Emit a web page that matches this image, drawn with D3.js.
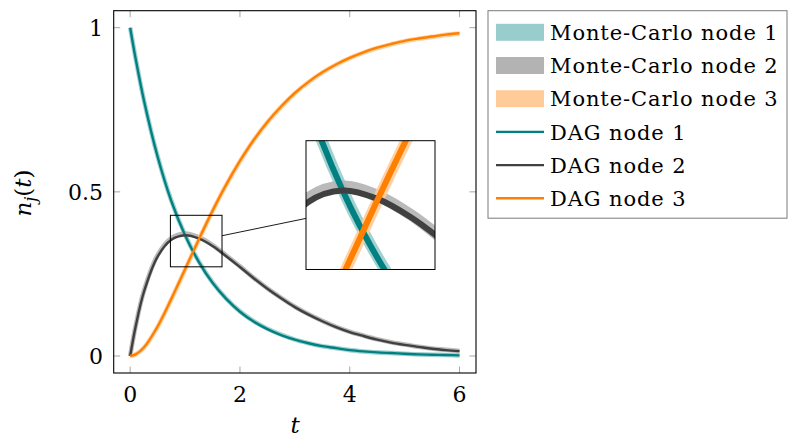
<!DOCTYPE html>
<html><head><meta charset="utf-8">
<script src="https://cdn.jsdelivr.net/npm/d3@7"></script>
<style>body{margin:0;background:#fff}</style></head>
<body><svg id="c" width="789" height="439"></svg>
<script>
// ---- data ----
const tValues   = [0, 0.1, 0.25, 0.5, 0.75, 1, 1.25, 1.5, 1.75, 2, 2.25, 2.5, 2.75, 3, 3.25, 3.5, 3.75, 4, 4.25, 4.5, 4.75, 5, 5.25, 5.5, 5.75, 6];
const dagNode1  = [1.0, 0.905, 0.779, 0.607, 0.472, 0.368, 0.287, 0.223, 0.174, 0.135, 0.105, 0.082, 0.064, 0.050, 0.039, 0.030, 0.024, 0.018, 0.014, 0.011, 0.009, 0.007, 0.005, 0.004, 0.003, 0.002];
const dagNode2  = [0, 0.090, 0.195, 0.303, 0.354, 0.368, 0.358, 0.335, 0.304, 0.271, 0.237, 0.205, 0.176, 0.149, 0.126, 0.106, 0.088, 0.073, 0.061, 0.050, 0.041, 0.034, 0.028, 0.022, 0.018, 0.015];
const dagNode3  = [0, 0.005, 0.026, 0.090, 0.174, 0.264, 0.355, 0.442, 0.522, 0.594, 0.658, 0.713, 0.760, 0.801, 0.835, 0.864, 0.888, 0.908, 0.925, 0.939, 0.950, 0.960, 0.967, 0.973, 0.979, 0.983];
const mcNode1   = [1.0, 0.906, 0.780, 0.608, 0.473, 0.369, 0.288, 0.224, 0.175, 0.136, 0.106, 0.083, 0.065, 0.050, 0.039, 0.030, 0.024, 0.018, 0.014, 0.011, 0.009, 0.007, 0.005, 0.004, 0.003, 0.002];
const mcNode2   = [0, 0.092, 0.198, 0.307, 0.359, 0.373, 0.362, 0.338, 0.306, 0.273, 0.238, 0.206, 0.177, 0.150, 0.127, 0.107, 0.089, 0.074, 0.062, 0.051, 0.042, 0.035, 0.028, 0.023, 0.019, 0.015];
const mcNode3   = [0, 0.005, 0.025, 0.089, 0.173, 0.263, 0.354, 0.441, 0.521, 0.593, 0.657, 0.712, 0.759, 0.800, 0.834, 0.863, 0.887, 0.907, 0.924, 0.938, 0.949, 0.959, 0.966, 0.972, 0.978, 0.982];
const xTicks = [0, 2, 4, 6];
const yTicks = [0, 0.5, 1];
const legendLabels = ["Monte-Carlo node 1", "Monte-Carlo node 2", "Monte-Carlo node 3", "DAG node 1", "DAG node 2", "DAG node 3"];
const spyX = [0.733, 1.673];   // magnified window (data units)
const spyY = [0.2717, 0.4286];

// ---- styles ----
const dagColors = ["#008080", "#404040", "#ff8000"];
const mcColors  = ["#99cccc", "#b3b3b3", "#ffcc99"];
const FONT = "'DejaVu Serif', serif";

const svg = d3.select("#c");
const P = {l: 113.7, r: 476, t: 10.7, b: 373};
const x = d3.scaleLinear().domain([-0.3, 6.3]).range([P.l, P.r]);
const y = d3.scaleLinear().domain([-0.0517, 1.0517]).range([P.b, P.t]);

const dagSeries = [dagNode1, dagNode2, dagNode3];
const mcSeries  = [mcNode1, mcNode2, mcNode3];
const line = d3.line().x((d, i) => x(tValues[i])).y(d => y(d)).curve(d3.curveCatmullRom.alpha(0.5));

const defs = svg.append("defs");
defs.append("clipPath").attr("id", "plotClip").append("rect")
  .attr("x", P.l).attr("y", P.t).attr("width", P.r - P.l).attr("height", P.b - P.t);

function drawSeries(g) {
  mcSeries.forEach((s, k) => g.append("path").attr("d", line(s)).attr("fill", "none")
    .attr("stroke", mcColors[k]).attr("stroke-width", 4.6).attr("stroke-opacity", 0.9));
  dagSeries.forEach((s, k) => g.append("path").attr("d", line(s)).attr("fill", "none")
    .attr("stroke", dagColors[k]).attr("stroke-width", 2.4));
}

// ticks (inside, gray)
const tickG = svg.append("g").attr("stroke", "#a6a6a6").attr("stroke-width", 1);
xTicks.forEach(v => {
  tickG.append("line").attr("x1", x(v)).attr("x2", x(v)).attr("y1", P.b).attr("y2", P.b - 6.5);
  tickG.append("line").attr("x1", x(v)).attr("x2", x(v)).attr("y1", P.t).attr("y2", P.t + 6.5);
});
yTicks.forEach(v => {
  tickG.append("line").attr("y1", y(v)).attr("y2", y(v)).attr("x1", P.l).attr("x2", P.l + 6.5);
  tickG.append("line").attr("y1", y(v)).attr("y2", y(v)).attr("x1", P.r).attr("x2", P.r - 6.5);
});

// main series
drawSeries(svg.append("g").attr("clip-path", "url(#plotClip)"));

// frame
svg.append("rect").attr("x", P.l).attr("y", P.t).attr("width", P.r - P.l).attr("height", P.b - P.t)
  .attr("fill", "none").attr("stroke", "#000").attr("stroke-width", 1.1);

// tick labels
svg.append("g").selectAll("text").data(xTicks).join("text")
  .attr("x", d => x(d)).attr("y", 402).attr("text-anchor", "middle")
  .attr("font-family", FONT).attr("font-size", 22).text(d => d3.format("")(d));
svg.append("g").selectAll("text").data(yTicks).join("text")
  .attr("x", 103).attr("y", d => y(d) + 8).attr("text-anchor", "end")
  .attr("font-family", FONT).attr("font-size", 22).text(d => d3.format("")(d));

// axis labels
svg.append("text").attr("x", 295).attr("y", 433).attr("text-anchor", "middle")
  .attr("font-family", FONT).attr("font-size", 23).attr("font-style", "italic").text("t");
const yl = svg.append("text").attr("transform", "translate(31,193) rotate(-90)").attr("text-anchor", "middle")
  .attr("font-family", FONT).attr("font-size", 23);
yl.append("tspan").attr("font-style", "italic").text("n");
yl.append("tspan").attr("font-style", "italic").attr("font-size", 16).attr("dy", 5).text("j");
yl.append("tspan").attr("dy", -5).text("(");
yl.append("tspan").attr("font-style", "italic").text("t");
yl.append("tspan").text(")");

// spy (magnifier)
const sx0 = x(spyX[0]), sx1 = x(spyX[1]), sy0 = y(spyY[1]), sy1 = y(spyY[0]);
const mag = 2.5;
const ix0 = 306, iy0 = 140.7, iw = (sx1 - sx0) * mag, ih = (sy1 - sy0) * mag;
const scx = (sx0 + sx1) / 2, scy = (sy0 + sy1) / 2, icx = ix0 + iw / 2, icy = iy0 + ih / 2;
const tA = ((sx1 - scx) / (icx - scx)), tB = ((ix0 - scx) / (icx - scx));
svg.append("line").attr("x1", sx1).attr("y1", scy + (icy - scy) * tA)
  .attr("x2", ix0).attr("y2", scy + (icy - scy) * tB).attr("stroke", "#000").attr("stroke-width", 0.9);
svg.append("rect").attr("x", sx0).attr("y", sy0).attr("width", sx1 - sx0).attr("height", sy1 - sy0)
  .attr("fill", "none").attr("stroke", "#000").attr("stroke-width", 1);
defs.append("clipPath").attr("id", "spyClip").append("rect")
  .attr("x", ix0).attr("y", iy0).attr("width", iw).attr("height", ih);
svg.append("rect").attr("x", ix0).attr("y", iy0).attr("width", iw).attr("height", ih).attr("fill", "#fff");
const spyOuter = svg.append("g").attr("clip-path", "url(#spyClip)");
drawSeries(spyOuter.append("g").attr("transform", `translate(${ix0 - mag * sx0},${iy0 - mag * sy0}) scale(${mag})`));
svg.append("rect").attr("x", ix0).attr("y", iy0).attr("width", iw).attr("height", ih)
  .attr("fill", "none").attr("stroke", "#000").attr("stroke-width", 1);

// legend
const L = {x: 488, y: 10.7, w: 299, h: 207.5};
svg.append("rect").attr("x", L.x).attr("y", L.y).attr("width", L.w).attr("height", L.h)
  .attr("fill", "#fff").attr("stroke", "#7a7a7a").attr("stroke-width", 1);
legendLabels.forEach((lab, i) => {
  const cy = 32.3 + i * 33.2;
  if (i < 3) {
    svg.append("rect").attr("x", 496).attr("y", cy - 8.5).attr("width", 48).attr("height", 17).attr("fill", mcColors[i]);
  } else {
    svg.append("line").attr("x1", 496).attr("x2", 544).attr("y1", cy).attr("y2", cy)
      .attr("stroke", dagColors[i - 3]).attr("stroke-width", 2.4);
  }
  svg.append("text").attr("x", 550).attr("y", cy + 7.7).attr("font-family", FONT).attr("font-size", 21)
    .attr("letter-spacing", 0.9).text(lab);
});
</script></body></html>
